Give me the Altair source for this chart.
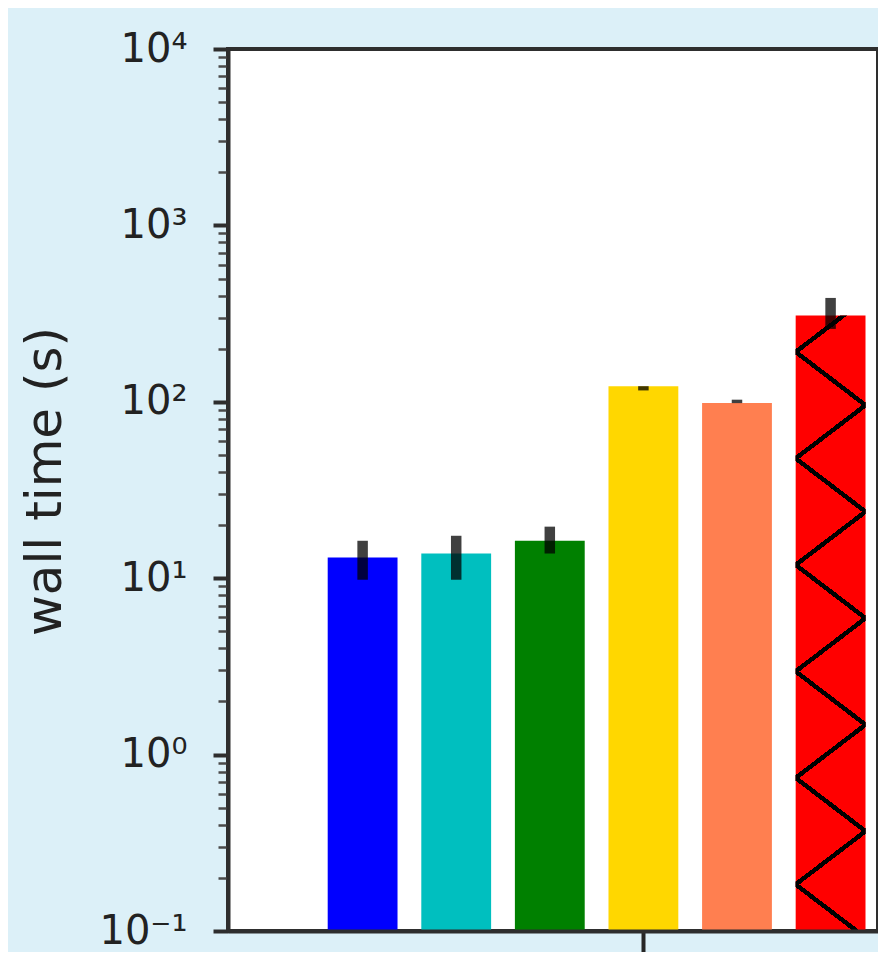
import math
import altair as alt
import pandas as pd

# ---------------- data ----------------
categories = ["A", "B", "C", "D", "E", "F"]
bar_colors = ["#0000ff", "#00bfbf", "#008000", "#ffd700", "#ff7f50", "#ff0000"]
wall_time = [13.1, 13.8, 16.3, 122.6, 98.3, 308.8]
err_low = [9.8, 9.8, 13.8, 116.0, 98.3, 259.0]
err_high = [16.3, 17.4, 19.6, 122.6, 102.8, 388.0]
hatched_category = "F"
x_tick_category = "D"

major_ticks = [0.1, 1, 10, 100, 1000, 10000]
major_labels = ["10⁻¹", "10⁰", "10¹", "10²", "10³", "10⁴"]
minor_ticks = [0.2, 0.3, 0.4, 0.5, 0.6, 0.7, 0.8, 0.9,
               2, 3, 4, 5, 6, 7, 8, 9,
               20, 30, 40, 50, 60, 70, 80, 90,
               200, 300, 400, 500, 600, 700, 800, 900,
               2000, 3000, 4000, 5000, 6000, 7000, 8000, 9000]

df = pd.DataFrame({
    "method": categories,
    "color": bar_colors,
    "time": wall_time,
    "lo": err_low,
    "hi": err_high,
})

# ---------------- layout / style ----------------
PLOT_W = 650
PLOT_H = 882
P_INNER = 0.254
P_OUTER = 0.5994
ALIGN = 0.8886
Y_MIN, Y_MAX = 0.1, 10000
DARK = "#2e2e2e"

step = PLOT_W / (len(categories) - P_INNER + 2 * P_OUTER)
bw = step * (1 - P_INNER)

# hatch ('x' pattern) for the hatched bar, via linear gradients
v_hatch = wall_time[categories.index(hatched_category)]
H = (math.log10(v_hatch) - math.log10(Y_MIN)) / (math.log10(Y_MAX) - math.log10(Y_MIN)) * PLOT_H
PERIOD = 106.5
PHASE = 36.5
HALF = 2.8
sW = PERIOD / 2.0  # vertical drop across the bar width


def hatch_gradient(sign):
    # sign=+1: lines going down-right ; sign=-1: lines going down-left
    if sign > 0:
        fmin, fmax = -sW, H
        dx = -sW
    else:
        fmin, fmax = 0.0, H + sW
        dx = sW
    c = fmax / (dx * dx + H * H)
    stops = [alt.GradientStop(offset=0, color="rgba(0,0,0,0)")]
    k = -3
    while True:
        L = PHASE + k * PERIOD
        k += 1
        if L - HALF > fmax:
            break
        if L + HALF < fmin:
            continue
        t0 = max(0.0, min(1.0, (L - HALF) / fmax))
        t1 = max(0.0, min(1.0, (L + HALF) / fmax))
        if t1 <= 0:
            continue
        stops += [
            alt.GradientStop(offset=t0, color="rgba(0,0,0,0)"),
            alt.GradientStop(offset=t0, color="#000000"),
            alt.GradientStop(offset=t1, color="#000000"),
            alt.GradientStop(offset=t1, color="rgba(0,0,0,0)"),
        ]
    stops.append(alt.GradientStop(offset=1, color="rgba(0,0,0,0)"))
    return alt.LinearGradient(gradient="linear", stops=stops,
                              x1=0, y1=0, x2=dx * c, y2=H * c)


major_test = "indexof(" + str(major_ticks) + ", datum.value) >= 0"
label_expr = " : ".join(
    'datum.value == {} ? "{}"'.format(v, l) for v, l in zip(major_ticks, major_labels)
) + ' : ""'

y_axis = alt.Axis(
    values=major_ticks + minor_ticks,
    labelExpr=label_expr,
    labelOverlap=False,
    labelFont="DejaVu Sans",
    labelFontSize=40,
    labelColor="#222222",
    labelPadding=26,
    tickSize=15,
    tickDash={"condition": {"test": major_test, "value": [100, 1]}, "value": [10, 40]},
    tickWidth={"condition": {"test": major_test, "value": 4}, "value": 2.5},
    tickColor={"condition": {"test": major_test, "value": DARK}, "value": "#4a4a4a"},
    domain=True,
    domainColor=DARK,
    domainWidth=4,
    grid=False,
    title="wall time (s)",
    titleFont="DejaVu Sans",
    titleFontSize=50,
    titleFontWeight="normal",
    titleColor="#222222",
    titleX=-183,
    titleY=432,
    titleBaseline="middle",
    zindex=1,
)
y_scale = alt.Scale(type="log", domain=[Y_MIN, Y_MAX], nice=False)

x_enc = alt.X(
    "method:N",
    sort=categories,
    scale=alt.Scale(domain=categories, paddingInner=P_INNER, paddingOuter=P_OUTER,
                    align=ALIGN, round=False),
    axis=alt.Axis(
        values=[x_tick_category], labels=False, title=None,
        tickSize=24, tickWidth=4, tickColor="#262626",
        domain=True, domainColor=DARK, domainWidth=4, grid=False, zindex=1,
    ),
)

y_bar = alt.Y("time:Q", scale=y_scale, axis=y_axis, stack=None)
y2_bar = alt.datum(Y_MIN)

base = alt.Chart(df)

bars = base.mark_bar(strokeWidth=0).encode(
    x=x_enc,
    y=y_bar,
    y2=y2_bar,
    color=alt.Color("method:N", scale=alt.Scale(domain=categories, range=bar_colors), legend=None),
)

hatch_a = base.transform_filter(alt.datum.method == hatched_category).mark_bar(
    fill=hatch_gradient(+1), strokeWidth=0
).encode(x=x_enc, y=y_bar, y2=y2_bar)

hatch_b = base.transform_filter(alt.datum.method == hatched_category).mark_bar(
    fill=hatch_gradient(-1), strokeWidth=0
).encode(x=x_enc, y=y_bar, y2=y2_bar)

errs = base.mark_rule(color="#000000", opacity=0.75, strokeWidth=10.5).encode(
    x=x_enc,
    y=alt.Y("lo:Q", scale=y_scale, axis=y_axis),
    y2="hi:Q",
)

chart = alt.layer(bars, hatch_a, hatch_b, errs).properties(
    width=PLOT_W,
    height=PLOT_H,
    autosize=alt.AutoSizeParams(type="none"),
    padding={"left": 220, "top": 41, "right": 0, "bottom": 21},
    background="#dcf0f8",
).configure_view(
    fill="white",
    stroke=DARK,
    strokeWidth=4,
)

chart.save("out.html", embed_options={"renderer": "svg", "actions": False})
